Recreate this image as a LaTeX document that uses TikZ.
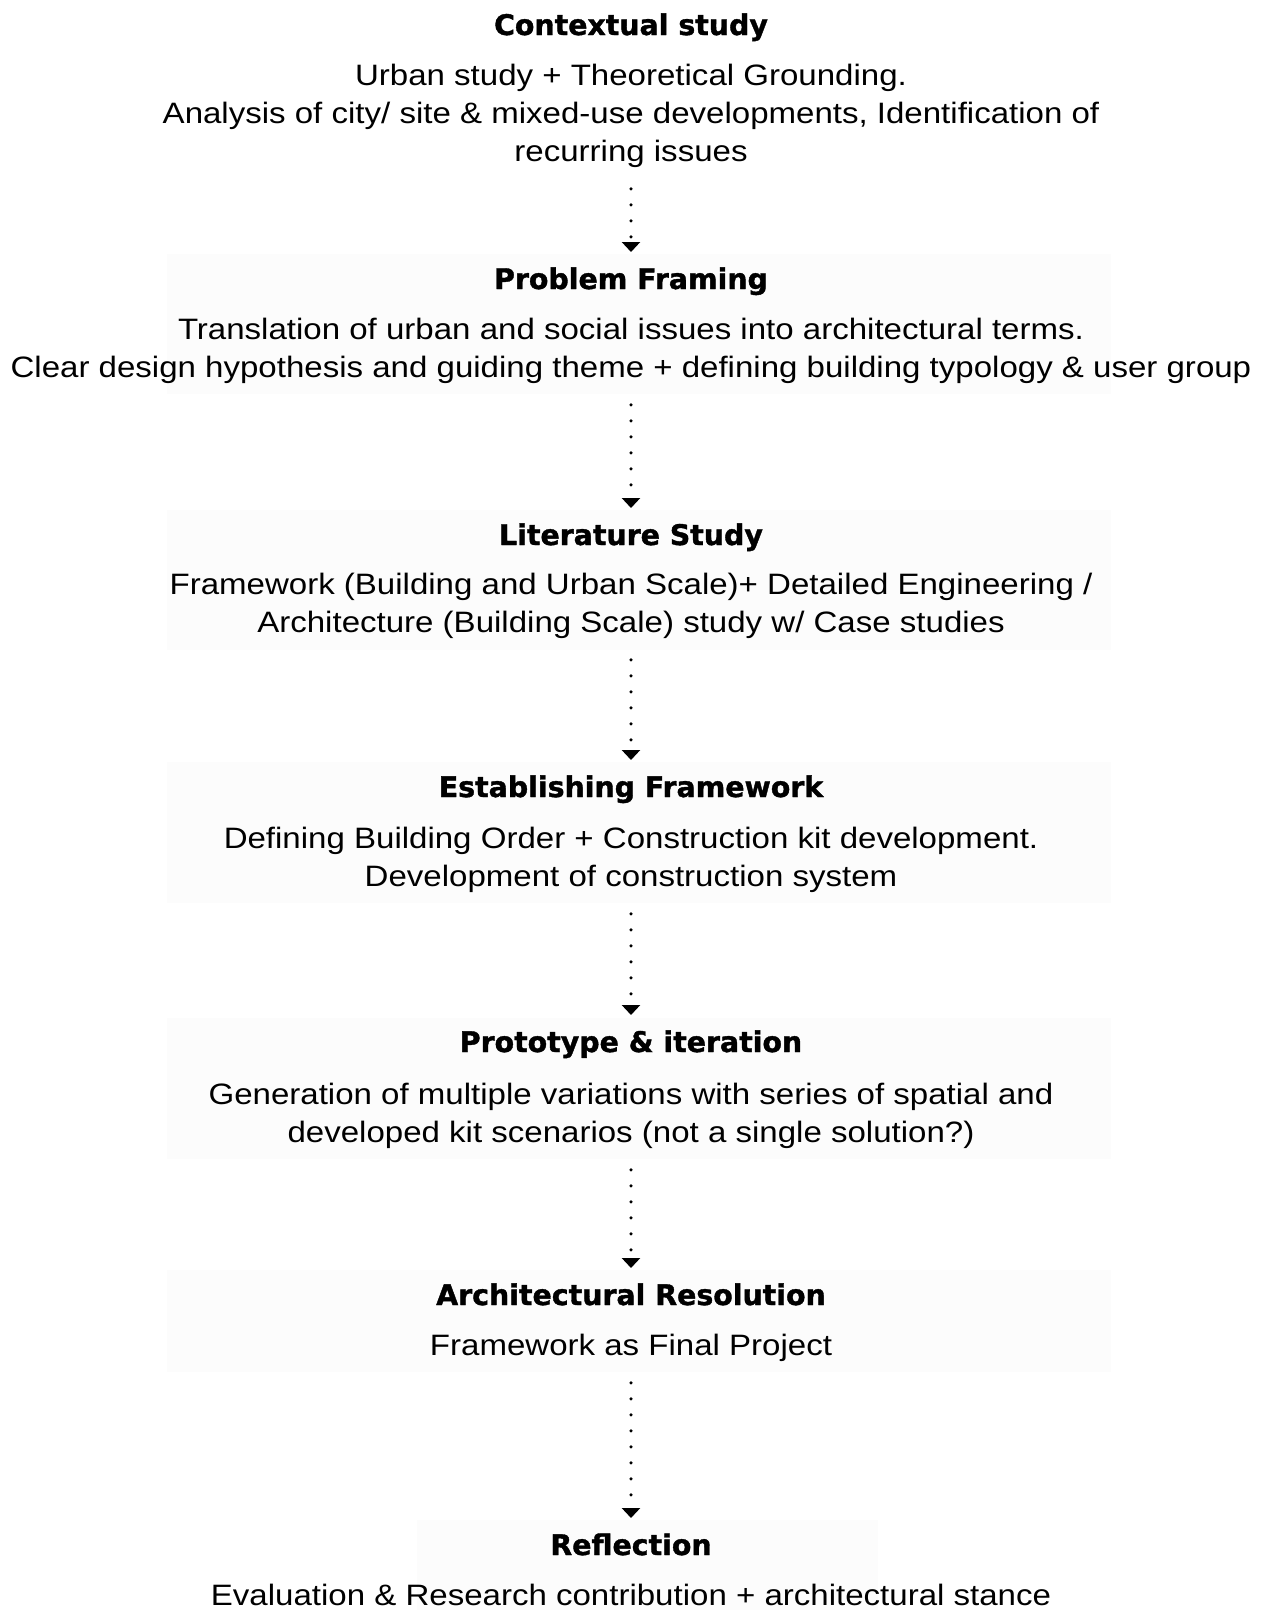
\documentclass[tikz,border=0pt]{standalone}
\usepackage{fontspec}
\setmainfont[FakeStretch=1.12]{Liberation Sans}
\newfontfamily\headfont[BoldFeatures={FakeBold=1.3}]{DejaVu Sans}
\usetikzlibrary{arrows.meta}

\begin{document}
\begin{tikzpicture}
	[
		x=1pt, y=-1pt,
		Head/.style={font=\headfont\bfseries\fontsize{28.4}{34}\selectfont, inner sep=0pt, anchor=base},
		Body/.style={font=\fontsize{29.5}{38}\selectfont, align=center, inner sep=0pt, anchor=north},
		Flow/.style={draw, line width=3.5pt, line cap=round, dash pattern=on 0pt off 16pt, -{Triangle[width=18pt,length=10pt]}, shorten <=16pt, shorten >=13pt}
	]
	
	\tikzstyle{Panel} = [
		fill=black!1,
		draw=none
	]
	
	\useasboundingbox (0,0) rectangle (1262,1610);
	
	% faint panels behind the stages
	\foreach \top/\bot/\lft/\rgt in {254/394/167/1111, 510/650/167/1111, 762/903/167/1111, 1018/1159/167/1111, 1270/1372/167/1111, 1520/1610/417/878}
		\fill[Panel] (\lft,\top) rectangle (\rgt,\bot);
	
	% stages
	\node [Head] (ctx) at (631,35) {\strut Contextual study};
	\node [Body] (ctxtxt) at (631,58.4) {\strut Urban study + Theoretical Grounding.\\Analysis of city/ site \& mixed-use developments, Identification of\\recurring issues\strut};
	
	\node [Head] (prob) at (631,289) {\strut Problem Framing};
	\node [Body] (probtxt) at (631,312.4) {\strut Translation of urban and social issues into architectural terms.\\Clear design hypothesis and guiding theme + defining building typology \& user group\strut};
	
	\node [Head] (lit) at (631,545) {\strut Literature Study};
	\node [Body] (littxt) at (631,567.4) {\strut Framework (Building and Urban Scale)+ Detailed Engineering /\\Architecture (Building Scale) study w/ Case studies\strut};
	
	\node [Head] (frame) at (631,797) {\strut Establishing Framework};
	\node [Body] (frametxt) at (631,821.4) {\strut Defining Building Order + Construction kit development.\\Development of construction system\strut};
	
	\node [Head] (proto) at (631,1052) {\strut Prototype \& iteration};
	\node [Body] (prototxt) at (631,1077.4) {\strut Generation of multiple variations with series of spatial and\\developed kit scenarios (not a single solution?)\strut};
	
	\node [Head] (res) at (631,1305) {\strut Architectural Resolution};
	\node [Body] (restxt) at (631,1328.4) {\strut Framework as Final Project\strut};
	
	\node [Head] (refl) at (631,1555) {\strut Reflection};
	\node [Body] (refltxt) at (631,1578.4) {\strut Evaluation \& Research contribution + architectural stance\strut};
	
	% dotted connectors
	\draw [Flow] (ctxtxt.south) -- (prob.north);
	\draw [Flow] (probtxt.south) -- (lit.north);
	\draw [Flow] (littxt.south) -- (frame.north);
	\draw [Flow] (frametxt.south) -- (proto.north);
	\draw [Flow] (prototxt.south) -- (res.north);
	\draw [Flow] (restxt.south) -- (refl.north);
\end{tikzpicture}
\end{document}
